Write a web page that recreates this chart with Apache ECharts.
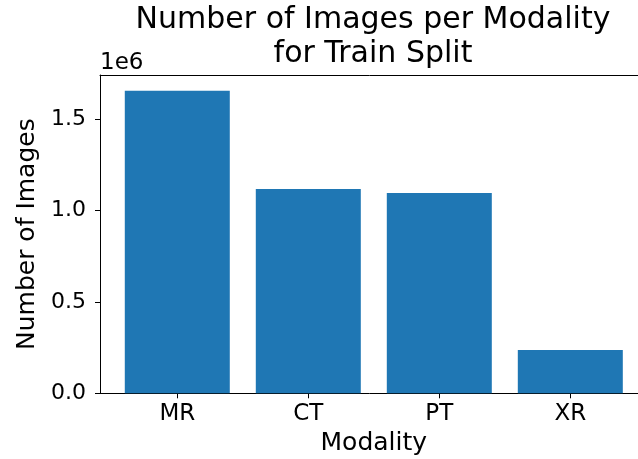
<!DOCTYPE html>
<html>
<head>
<meta charset="utf-8">
<script src="https://cdn.jsdelivr.net/npm/echarts@6/dist/echarts.min.js"></script>
<style>
  html, body { margin: 0; padding: 0; background: #fff; }
  #chart { width: 638px; height: 459px; }
</style>
</head>
<body>
<div id="chart"></div>
<script>
  const categories = ['MR', 'CT', 'PT', 'XR']
  const counts = [1656000, 1118000, 1096000, 237000]
  const xTicks = [0, 1, 2, 3]
  const yTicks = [0, 500000, 1000000, 1500000]

  const font = 'DejaVu Sans'
  const chart = echarts.init(document.getElementById('chart'))

  chart.setOption({
    animation: false,
    title: {
      text: 'Number of Images per Modality\nfor Train Split',
      left: 368,
      top: -2,
      textAlign: 'center',
      textStyle: {
        fontFamily: font,
        fontSize: 30,
        fontWeight: 'normal',
        color: '#000',
        lineHeight: 34
      }
    },
    grid: {
      left: 100,
      top: 75,
      width: 547.6,
      height: 318.3,
      outerBoundsMode: 'none'
    },
    graphic: [
      {
        type: 'text',
        left: 100,
        top: 52,
        style: { text: '1e6', font: '23px "DejaVu Sans"', fill: '#000' }
      }
    ],
    xAxis: [
      {
        type: 'value',
        min: -0.59,
        max: 3.59,
        name: 'Modality',
        nameLocation: 'middle',
        nameGap: 38,
        nameTextStyle: { fontFamily: font, fontSize: 25, color: '#000' },
        splitLine: { show: false },
        axisLine: { show: true, onZero: false, lineStyle: { color: '#000', width: 1 } },
        axisTick: { show: true, length: 5, lineStyle: { color: '#000', width: 1 }, customValues: xTicks },
        axisLabel: {
          customValues: xTicks,
          fontFamily: font,
          fontSize: 23,
          color: '#000',
          margin: 9,
          formatter: v => categories[Math.round(v)] || ''
        }
      },
      {
        // top spine
        type: 'value',
        position: 'top',
        min: -0.59,
        max: 3.59,
        splitLine: { show: false },
        axisLine: { show: true, onZero: false, lineStyle: { color: '#000', width: 1 } },
        axisTick: { show: false },
        axisLabel: { show: false }
      }
    ],
    yAxis: {
      type: 'value',
      position: 'left',
      min: 0,
      max: 1742000,
      name: 'Number of Images',
      nameLocation: 'middle',
      nameRotate: 90,
      nameGap: 58,
      nameTextStyle: { fontFamily: font, fontSize: 25, color: '#000' },
      splitLine: { show: false },
      axisLine: { show: true, onZero: false, lineStyle: { color: '#000', width: 1 } },
      axisTick: { show: true, length: 5, lineStyle: { color: '#000', width: 1 }, customValues: yTicks },
      axisLabel: {
        customValues: yTicks,
        fontFamily: font,
        fontSize: 22,
        color: '#000',
        margin: 14,
        formatter: v => (v / 1e6).toFixed(1)
      }
    },
    series: [
      {
        type: 'bar',
        xAxisIndex: 0,
        barWidth: 105,
        itemStyle: { color: '#1f77b4' },
        data: counts.map((c, i) => [i, c])
      }
    ]
  })
</script>
</body>
</html>
